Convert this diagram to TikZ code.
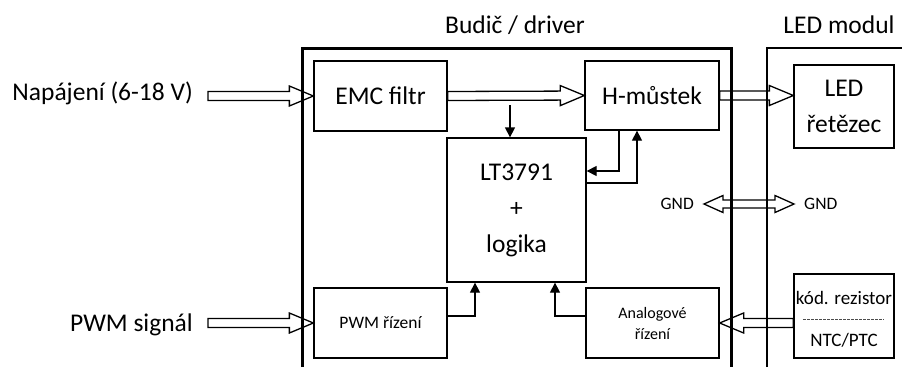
\documentclass[tikz,border=0pt]{standalone}
\usepackage{fontspec}
\setmainfont{Carlito}
\usetikzlibrary{calc,arrows.meta}
\newcommand\myBig{\fontsize{25.5}{36}\selectfont}
\newcommand\myMid{\fontsize{19}{22}\selectfont}
\newcommand\mySmall{\fontsize{17.5}{21}\selectfont}
\newcommand\myTiny{\fontsize{16}{21}\selectfont}
\begin{document}
\begin{tikzpicture}[x=1pt,y=-1pt,
  box/.style={draw, line width=1.3pt, inner sep=0pt, align=center},
  sig/.style={line width=1.3pt, -{Triangle[length=10pt,width=10pt]}},
  hollow/.style={line width=1.3pt, line join=miter, to path={
    ($(\tikztostart)!4.5pt!90:(\tikztotarget)$) --
    ($(\tikztotarget)!24pt!(\tikztostart)!4.5pt!90:(\tikztotarget)$) --
    ($(\tikztotarget)!24pt!(\tikztostart)!10pt!90:(\tikztotarget)$) --
    (\tikztotarget) --
    ($(\tikztotarget)!24pt!(\tikztostart)!10pt!-90:(\tikztotarget)$) --
    ($(\tikztotarget)!24pt!(\tikztostart)!4.5pt!-90:(\tikztotarget)$) --
    ($(\tikztostart)!4.5pt!-90:(\tikztotarget)$) -- cycle}},
  hollowLR/.style={line width=1.3pt, line join=miter, to path={
    (\tikztostart) --
    ($(\tikztostart)!19pt!(\tikztotarget)!8.5pt!90:(\tikztotarget)$) --
    ($(\tikztostart)!19pt!(\tikztotarget)!4pt!90:(\tikztotarget)$) --
    ($(\tikztotarget)!19pt!(\tikztostart)!4pt!90:(\tikztotarget)$) --
    ($(\tikztotarget)!19pt!(\tikztostart)!8.5pt!90:(\tikztotarget)$) --
    (\tikztotarget) --
    ($(\tikztotarget)!19pt!(\tikztostart)!8.5pt!-90:(\tikztotarget)$) --
    ($(\tikztotarget)!19pt!(\tikztostart)!4pt!-90:(\tikztotarget)$) --
    ($(\tikztostart)!19pt!(\tikztotarget)!4pt!-90:(\tikztotarget)$) --
    ($(\tikztostart)!19pt!(\tikztotarget)!8.5pt!-90:(\tikztotarget)$) -- cycle}}
]
\useasboundingbox[fill=white] (0,0) rectangle (902,367);

% frames
\draw[line width=3pt] (302,367) -- (302,48) -- (731,48) -- (731,367);
\draw[line width=1.3pt] (767,367) -- (767,48) -- (902,48);

% titles and outer labels
\node[anchor=base, font=\myBig] (budic) at (515,33) {Budič / driver};
\node[anchor=base, font=\myBig] (ledm) at (839,33) {LED modul};
\node[anchor=base east, inner sep=0pt, font=\myBig] (nap) at (193,100) {Napájení (6-18 V)};
\node[anchor=base east, inner sep=0pt, font=\myBig] (pwms) at (193,331) {PWM signál};

% boxes
\node[box, minimum width=133pt, minimum height=70pt, font=\myBig] (emc) at (380.5,96) {EMC filtr};
\node[box, minimum width=134pt, minimum height=69pt, font=\myBig] (hm) at (652,95.5) {H-můstek};
\node[box, minimum width=139pt, minimum height=144pt, font=\myBig] (lt) at (516.5,210) {LT3791\\+\\logika};
\node[box, minimum width=133pt, minimum height=70pt, font=\mySmall] (pwm) at (380.5,323) {PWM řízení};
\node[box, minimum width=133pt, minimum height=70pt, font=\myTiny] (an) at (652.5,323) {Analogové\\řízení};
\node[box, minimum width=100pt, minimum height=83pt, font=\myBig] (led) at (844,106.5) {LED\\řetězec};
\node[box, minimum width=100pt, minimum height=84pt] (kod) at (844,316) {};
\node[anchor=base, font=\myMid] (kod1) at (844,304) {kód. rezistor};
\node[anchor=base, font=\myMid] (kod2) at (844,346) {NTC/PTC};
\draw[line width=0.6pt, dash pattern=on 3pt off 1pt, black!70] (803,319) -- (884,319);

% GND labels
\node[anchor=east, inner sep=0pt, font=\mySmall] (g1) at (694,204) {GND};
\node[anchor=west, inner sep=0pt, font=\mySmall] (g2) at (804,204) {GND};

% helper coordinates
\coordinate (napA) at (208,96);
\coordinate (pwmA) at (napA |- pwm.west);
\coordinate (ledA) at (hm.east -| led.west);
\coordinate (kodA) at (kod.west |- an.east);
\coordinate (gA) at ([xshift=10pt]g1.east);
\coordinate (gB) at ([xshift=-10pt]g2.west);
\coordinate (dn) at (510,105);

% hollow arrows
\draw[hollow] (napA) to (emc.west);
\draw[hollow] (emc.east) to (hm.west);
\draw[hollow] (hm.east) to (ledA);
\draw[hollow] (pwmA) to (pwm.west);
\draw[hollow] (kodA) to (an.east);
\draw[hollowLR] (gA) to (gB);

% signal arrows
\draw[sig] (dn) -- (dn |- lt.north);
\draw[sig] ($(hm.south)+(-33,0)$) |- ($(lt.east)+(0,-39)$);
\draw[sig] ($(lt.east)+(0,-27)$) -| ($(hm.south)+(-15,0)$);
\draw[sig] ($(pwm.east)+(0,-7)$) -| ($(lt.south)+(-41.5,0)$);
\draw[sig] ($(an.west)+(0,-7)$) -| ($(lt.south)+(38.5,0)$);
\end{tikzpicture}
\end{document}
